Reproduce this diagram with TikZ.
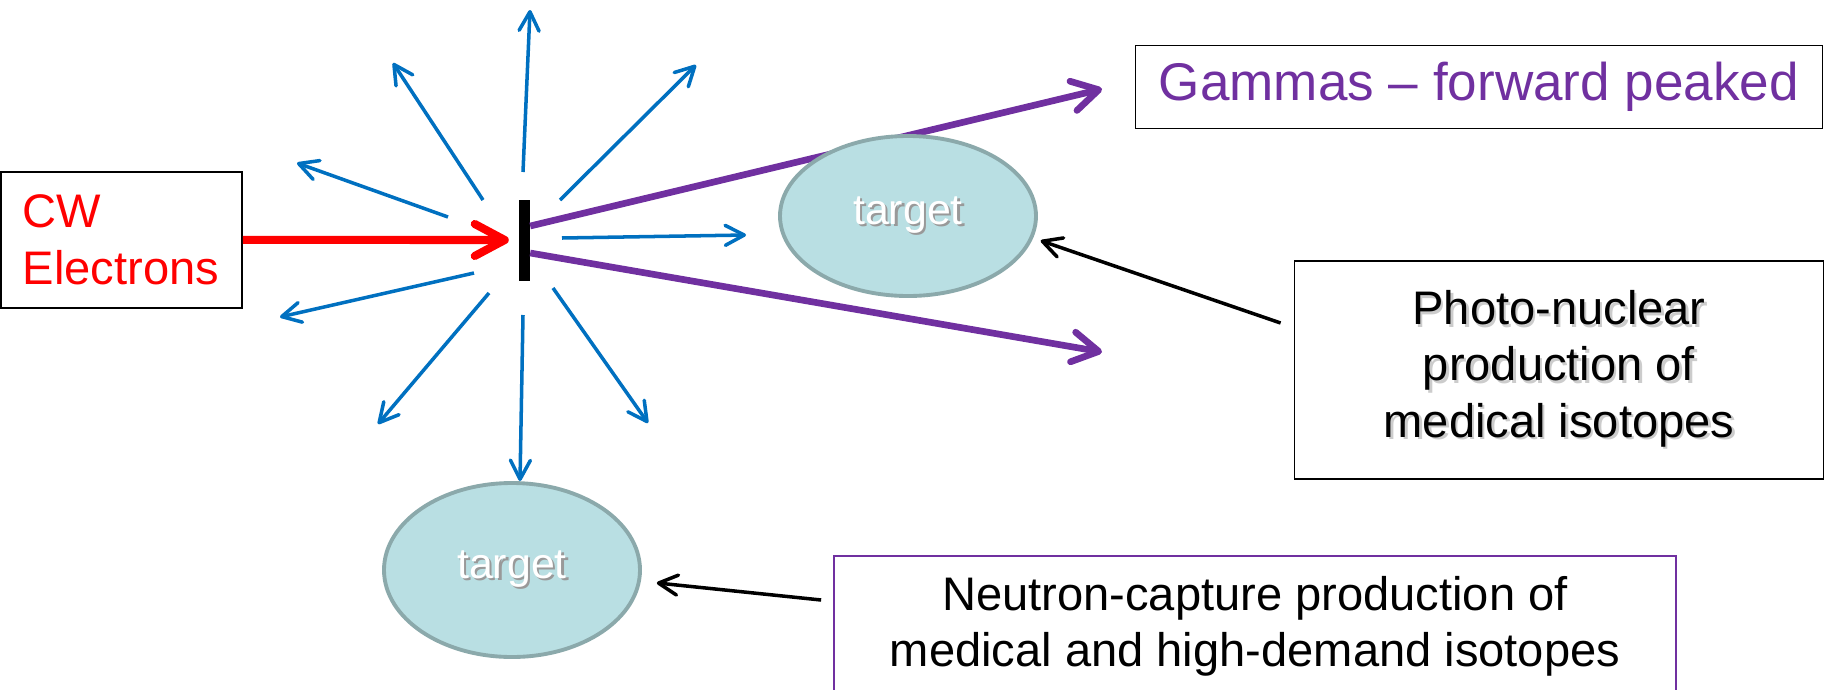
\documentclass[tikz,border=0pt]{standalone}
\usepackage{fontspec}
\setmainfont{Liberation Sans}
\usetikzlibrary{arrows.meta,shapes.geometric}
\definecolor{rayblue}{RGB}{0,112,192}
\definecolor{gampurple}{RGB}{112,48,160}
\definecolor{tgtfill}{RGB}{185,223,227}
\definecolor{tgtline}{RGB}{139,169,171}
\newcommand{\dropshadow}[2]{\leavevmode\rlap{\kern0.25mm\raisebox{-0.25mm}{\textcolor{#1}{#2}}}#2}
\begin{document}
\begin{tikzpicture}
      [x=0.1mm, y=-0.1mm,
      every node/.style={font=\fontsize{13.4}{16}\selectfont},
      box/.style={draw, line width=0.5pt, inner sep=0pt},
      target/.style={ellipse, draw=tgtline, line width=1.1pt, fill=tgtfill, text=white,
        inner sep=0pt, minimum width=25.6mm, font=\fontsize{12.2}{14}\selectfont},
      beam/.style={red, line width=2.3pt, -{Straight Barb[length=3mm, width=3.2mm, round]}},
      gamma/.style={gampurple, line width=1.9pt, -{Straight Barb[length=2.6mm, width=3mm, round]}},
      ray/.style={rayblue, line width=1pt, -{Straight Barb[length=1.9mm, width=2mm, round]}},
      pointer/.style={black, line width=1pt, -{Straight Barb[length=1.9mm, width=2mm, round]}},
      ]
      \useasboundingbox (0,0) rectangle (1828,689);
      \node[box, anchor=north west, minimum width=24.1mm, minimum height=13.6mm,
        text width=19.7mm, align=left, text=red] (cw) at (0,171) {CW\\Electrons};
      \node[fill=black, minimum width=1.1mm, minimum height=8.1mm, inner sep=0pt] (bar) at (524,240) {};
      \draw[beam, shorten >=0.9mm] (cw.east) -- (bar.west);
      % scattered electrons
      \foreach \xa/\ya/\xb/\yb in {523/172/530/10, 483/200/393/63, 560/200/696/65,
          448/217/297/163, 474/273/280/317, 489/293/378/424, 523/315/520/481,
          553/288/648/423, 562/238/746/235}
        \draw[ray] (\xa,\ya) -- (\xb,\yb);
      % bremsstrahlung
      \coordinate (g1) at (1102,89);
      \coordinate (g2) at (1102,352);
      \draw[gamma] ([yshift=1.4mm]bar.east) -- (g1);
      \draw[gamma] ([yshift=-1.3mm]bar.east) -- (g2);
      \node[target, minimum height=16mm] (tgtA) at (908,216) {\dropshadow{black!40}{target}};
      \node[target, minimum height=17.4mm] (tgtB) at (512,570) {\dropshadow{black!40}{target}};
      \node[box, minimum width=68.7mm, minimum height=8.3mm, text=gampurple,
        font=\fontsize{15.1}{18}\selectfont] (gam) at (1479,87) {Gammas – forward peaked};
      \node[box, minimum width=52.9mm, minimum height=21.8mm, align=center] (photo) at (1559,370)
        {\dropshadow{black!20}{Photo-nuclear}\\\dropshadow{black!20}{production of}\\\dropshadow{black!20}{medical isotopes}};
      \node[box, draw=gampurple, minimum width=84.2mm, minimum height=14mm, align=center] (neut) at (1255,626)
        {Neutron-capture production of\\medical and high-demand isotopes};
      \draw[pointer, shorten >=0.8mm] ([xshift=-1.3mm, yshift=4.7mm]photo.west) -- (tgtA.-10);
      \draw[pointer, shorten >=1.6mm] ([xshift=-1.2mm, yshift=2.6mm]neut.west) -- (tgtB.-5);
\end{tikzpicture}
\end{document}
